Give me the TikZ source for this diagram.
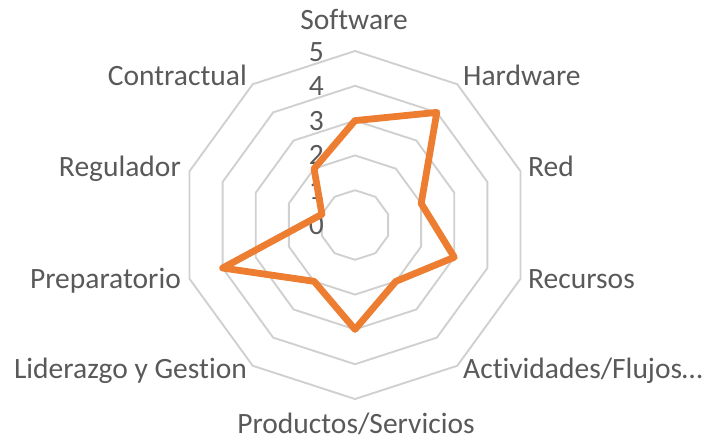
\documentclass[tikz,border=0pt]{standalone}
\usepackage{fontspec}
\setmainfont{Carlito}[Ligatures=NoCommon]
\definecolor{gridgray}{HTML}{D0D0D0}
\definecolor{textgray}{HTML}{595959}
\definecolor{lineorange}{HTML}{ED7D31}
\tikzset{
  ring/.style={draw=gridgray, line width=1.9pt},
  series/.style={draw=lineorange, line width=6.8pt, line join=round},
  axislabel/.style={text=textgray, font=\fontsize{29.5}{34}\selectfont, inner sep=0pt},
  ticklabel/.style={text=textgray, font=\fontsize{29.5}{34}\selectfont, inner sep=0pt, anchor=base east}
}
\begin{document}
\begin{tikzpicture}[x=1pt, y=1pt]
    \useasboundingbox (-355,-215) rectangle (349,225);

    % rings 1..5
    \foreach \r in {34.8,69.6,104.4,139.2,174}
      \draw[ring] (90:\r) -- (54:\r) -- (18:\r) -- (-18:\r) -- (-54:\r) -- (-90:\r)
        -- (-126:\r) -- (-162:\r) -- (162:\r) -- (126:\r) -- cycle;

    % tick labels
    \node[ticklabel] (t0) at (-31, -9)    {0};
    \node[ticklabel] (t1) at (-31, 25.6)  {1};
    \node[ticklabel] (t2) at (-31, 60.2)  {2};
    \node[ticklabel] (t3) at (-31, 94.8)  {3};
    \node[ticklabel] (t4) at (-31, 129.4) {4};
    \node[ticklabel] (t5) at (-31, 164)   {5};

    % category labels
    \node[axislabel, anchor=base]      (software)    at (-1, 196)   {Software};
    \node[axislabel, anchor=base west] (hardware)    at (108, 140)  {Hardware};
    \node[axislabel, anchor=base west] (red)         at (173, 49)   {Red};
    \node[axislabel, anchor=base west] (recursos)    at (173, -63)  {Recursos};
    \node[axislabel, anchor=base west] (actividades) at (108, -153) {Actividades/Flujos…};
    \node[axislabel, anchor=base]      (productos)   at (1, -208)   {Productos/Servicios};
    \node[axislabel, anchor=base east] (liderazgo)   at (-108, -153) {Liderazgo y Gestion};
    \node[axislabel, anchor=base east] (preparatorio) at (-174, -63) {Preparatorio};
    \node[axislabel, anchor=base east] (regulador)   at (-174, 49)  {Regulador};
    \node[axislabel, anchor=base east] (contractual) at (-108, 140) {Contractual};

    % data points
    \coordinate (pSoftware)     at (90:104.4);
    \coordinate (pHardware)     at (54:139.2);
    \coordinate (pRed)          at (18:69.6);
    \coordinate (pRecursos)     at (-18:104.4);
    \coordinate (pActividades)  at (-54:69.6);
    \coordinate (pProductos)    at (-90:104.4);
    \coordinate (pLiderazgo)    at (-126:69.6);
    \coordinate (pPreparatorio) at (-162:139.2);
    \coordinate (pRegulador)    at (162:34.8);
    \coordinate (pContractual)  at (126:69.6);

    \draw[series] (pSoftware) -- (pHardware) -- (pRed) -- (pRecursos) -- (pActividades)
      -- (pProductos) -- (pLiderazgo) -- (pPreparatorio) -- (pRegulador) -- (pContractual) -- cycle;

  \end{tikzpicture}
\end{document}
